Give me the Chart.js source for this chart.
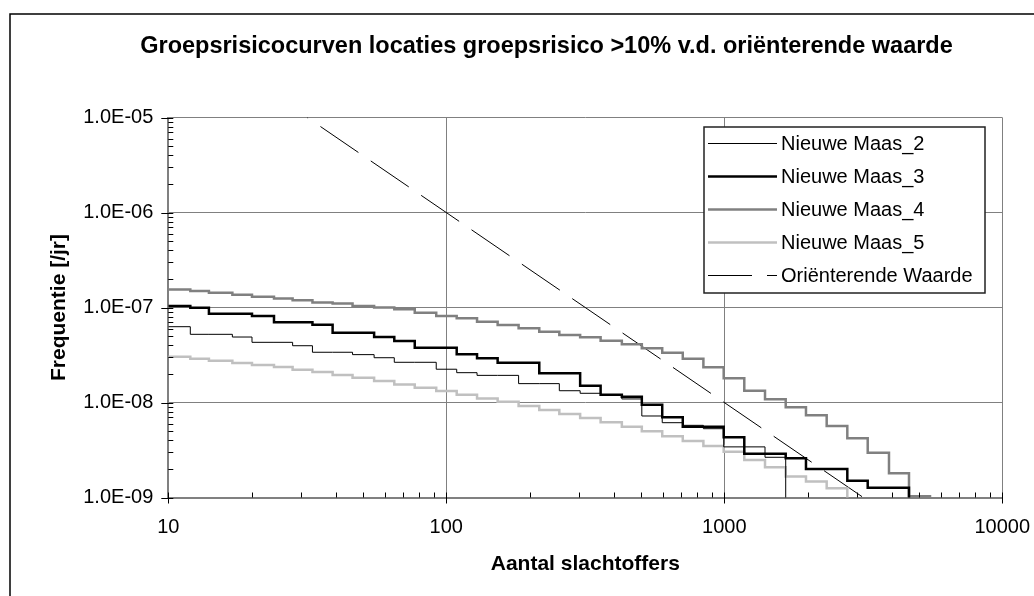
<!DOCTYPE html>
<html lang="nl">
<head>
<meta charset="utf-8">
<title>Groepsrisicocurven</title>
<script src="https://cdn.jsdelivr.net/npm/chart.js@4.4.1/dist/chart.umd.min.js"></script>
<style>
    html, body { margin: 0; padding: 0; background: #fff; overflow: hidden; }
    #wrap { position: relative; width: 1034px; height: 596px; }
</style>
</head>
<body>
<div id="wrap"><canvas id="gr-chart" width="1034" height="596"></canvas></div>
<script>
// Aantal slachtoffers (start van elke trede)
const aantal = [10, 12, 14, 17, 20, 24, 28, 33, 39, 46, 55, 65, 77, 92, 109, 129, 153, 182, 216, 255,
    303, 359, 428, 505, 598, 709, 841, 995, 1180, 1401, 1663, 1967, 2335, 2770, 3280, 3912, 4617, 5495];

// Frequentie [/jr] per locatie
const maas2 = [6.28e-8, 5.22e-8, 5.22e-8, 4.89e-8, 4.30e-8, 4.30e-8, 3.96e-8, 3.38e-8, 3.38e-8, 3.19e-8,
    2.96e-8, 2.65e-8, 2.65e-8, 2.24e-8, 2.06e-8, 1.93e-8, 1.93e-8, 1.58e-8, 1.58e-8, 1.33e-8,
    1.25e-8, 1.19e-8, 1.09e-8, 7.21e-9, 6.13e-9, 5.75e-9, 5.30e-9, 3.41e-9, 3.41e-9, 2.65e-9,
    1e-10, null, null, null, null, null, null, null];
const maas3 = [1.04e-7, 9.95e-8, 8.61e-8, 8.61e-8, 8.14e-8, 6.99e-8, 6.99e-8, 6.59e-8, 5.43e-8, 5.43e-8,
    4.89e-8, 4.44e-8, 3.77e-8, 3.77e-8, 3.22e-8, 2.92e-8, 2.62e-8, 2.62e-8, 2.03e-8, 2.03e-8,
    1.50e-8, 1.21e-8, 1.15e-8, 9.48e-9, 6.99e-9, 5.56e-9, 5.56e-9, 4.30e-9, 2.89e-9, 2.89e-9,
    2.59e-9, 2.00e-9, 2.00e-9, 1.50e-9, 1.27e-9, 1.27e-9, 1e-10, null];
const maas4 = [1.55e-7, 1.49e-7, 1.43e-7, 1.36e-7, 1.30e-7, 1.24e-7, 1.19e-7, 1.13e-7, 1.10e-7, 1.04e-7,
    1.00e-7, 9.57e-8, 8.81e-8, 8.14e-8, 7.70e-8, 7.09e-8, 6.54e-8, 6.04e-8, 5.56e-8, 5.13e-8,
    4.85e-8, 4.47e-8, 4.10e-8, 3.72e-8, 3.34e-8, 2.89e-8, 2.35e-8, 1.80e-8, 1.33e-8, 1.08e-8,
    8.90e-9, 7.33e-9, 5.66e-9, 4.20e-9, 2.96e-9, 1.80e-9, 1.03e-9, 1e-10];
const maas5 = [3.03e-8, 2.89e-8, 2.75e-8, 2.60e-8, 2.48e-8, 2.36e-8, 2.21e-8, 2.10e-8, 1.95e-8, 1.82e-8,
    1.68e-8, 1.55e-8, 1.43e-8, 1.32e-8, 1.21e-8, 1.10e-8, 1.02e-8, 9.19e-9, 8.34e-9, 7.57e-9,
    6.87e-9, 6.19e-9, 5.56e-9, 4.97e-9, 4.41e-9, 3.93e-9, 3.48e-9, 3.03e-9, 2.48e-9, 2.08e-9,
    1.66e-9, 1.47e-9, 1.25e-9, 1e-10, null, null, null, null];

// Oriënterende waarde
const orientAantal = [31.6, 3162];
const orientFreq = [1e-5, 1e-9];

// As-indeling
const xTicks = [10, 100, 1000, 10000];
const yTicks = [1e-9, 1e-8, 1e-7, 1e-6, 1e-5];

const FONT = "'Liberation Sans', Arial, sans-serif";

function toPoints(xs, ys) {
    return xs.map((x, i) => ({ x: x, y: ys[i] })).filter(p => p.y !== null);
}

function sciLabel(v) {
    const exp = Math.round(Math.log10(v));
    return '1.0E' + (exp < 0 ? '-' : '+') + String(Math.abs(exp)).padStart(2, '0');
}

// kader, titel, tickmarks en legende in Excel-stijl
const excelLook = {
    id: 'excelLook',
    beforeDraw(chart) {
        const ctx = chart.ctx;
        ctx.save();
        ctx.fillStyle = '#fff';
        ctx.fillRect(0, 0, chart.width, chart.height);
        ctx.strokeStyle = '#000';
        ctx.lineWidth = 1.5;
        ctx.beginPath();
        ctx.moveTo(10, chart.height + 5);
        ctx.lineTo(10, 14);
        ctx.lineTo(chart.width + 5, 14);
        ctx.stroke();
        ctx.restore();
    },
    afterDatasetsDraw(chart) {
        const { ctx, chartArea: a, scales: { x, y } } = chart;
        ctx.save();
        ctx.strokeStyle = '#000';
        ctx.lineWidth = 1;
        ctx.beginPath();
        for (let d = -9; d <= -5; d++) {
            const py = Math.round(y.getPixelForValue(Math.pow(10, d))) + 0.5;
            ctx.moveTo(a.left - 7, py);
            ctx.lineTo(a.left + 5, py);
            if (d === -5) continue;
            for (let m = 2; m <= 9; m++) {
                const p = Math.round(y.getPixelForValue(m * Math.pow(10, d))) + 0.5;
                ctx.moveTo(a.left, p);
                ctx.lineTo(a.left + 5, p);
            }
        }
        for (let d = 1; d <= 4; d++) {
            const px = Math.round(x.getPixelForValue(Math.pow(10, d))) + 0.5;
            ctx.moveTo(px, a.bottom - 5);
            ctx.lineTo(px, a.bottom + 6);
            if (d === 4) continue;
            for (let m = 2; m <= 9; m++) {
                const p = Math.round(x.getPixelForValue(m * Math.pow(10, d))) + 0.5;
                ctx.moveTo(p, a.bottom - 5);
                ctx.lineTo(p, a.bottom);
            }
        }
        ctx.stroke();
        ctx.restore();
    },
    afterDraw(chart) {
        const ctx = chart.ctx;
        ctx.save();

        // titel
        ctx.fillStyle = '#000';
        ctx.font = 'bold 23.5px ' + FONT;
        ctx.textAlign = 'center';
        ctx.textBaseline = 'middle';
        ctx.fillText('Groepsrisicocurven locaties groepsrisico >10% v.d. oriënterende waarde', 546.5, 47);

        // legende
        const lg = { left: 704, top: 127, right: 985, bottom: 293 };
        ctx.fillStyle = '#fff';
        ctx.fillRect(lg.left, lg.top, lg.right - lg.left, lg.bottom - lg.top);
        ctx.strokeStyle = '#222';
        ctx.lineWidth = 1.5;
        ctx.strokeRect(lg.left, lg.top, lg.right - lg.left, lg.bottom - lg.top);

        ctx.textAlign = 'left';
        ctx.font = '20px ' + FONT;
        chart.data.datasets.forEach((ds, i) => {
            const cy = 143.5 + i * 33;
            ctx.strokeStyle = ds.borderColor;
            ctx.lineWidth = ds.borderWidth;
            ctx.setLineDash(ds.borderDash || []);
            ctx.lineDashOffset = ds.borderDash ? 2 : 0;
            ctx.beginPath();
            ctx.moveTo(lg.left + 4, cy);
            ctx.lineTo(777, cy);
            ctx.stroke();
            ctx.setLineDash([]);
            ctx.fillStyle = '#000';
            ctx.fillText(ds.label, 781, cy + 1);
        });
        ctx.restore();
    }
};

const stepLine = (label, xs, ys, color, width) => ({
    label: label,
    data: toPoints(xs, ys),
    borderColor: color,
    borderWidth: width,
    stepped: true,
    pointRadius: 0,
    fill: false,
});

const datasets = [
    stepLine('Nieuwe Maas_2', aantal, maas2, '#000000', 1),
    stepLine('Nieuwe Maas_3', aantal, maas3, '#000000', 2.5),
    stepLine('Nieuwe Maas_4', aantal, maas4, '#808080', 2.5),
    stepLine('Nieuwe Maas_5', aantal, maas5, '#c0c0c0', 2.5),
    {
        label: 'Oriënterende Waarde',
        data: toPoints(orientAantal, orientFreq),
        borderColor: '#000000',
        borderWidth: 1,
        borderDash: [46, 15],
        borderDashOffset: 45,
        pointRadius: 0,
        fill: false,
    }
];

new Chart(document.getElementById('gr-chart').getContext('2d'), {
    type: 'line',
    data: { datasets },
    plugins: [excelLook],
    options: {
        responsive: false,
        animation: false,
        devicePixelRatio: 1,
        layout: { padding: { top: 117.5, right: 31.7, left: 0, bottom: 0 } },
        plugins: {
            legend: { display: false },
            tooltip: { enabled: false },
        },
        scales: {
            x: {
                type: 'logarithmic',
                min: 10,
                max: 10000,
                afterBuildTicks: s => { s.ticks = xTicks.map(v => ({ value: v })); },
                afterFit: s => {
                    s.height = 98.5;
                    s.paddingLeft = 0;
                    s.paddingRight = 0;
                },
                ticks: {
                    font: { family: FONT, size: 20 },
                    color: '#000',
                    padding: 18,
                    maxRotation: 0,
                    autoSkip: false,
                    callback: v => String(v),
                },
                grid: { color: '#808080', lineWidth: 1, drawTicks: false },
                border: { color: '#808080', width: 2 },
                title: {
                    display: true,
                    text: 'Aantal slachtoffers',
                    font: { family: FONT, size: 21, weight: 'bold' },
                    color: '#000',
                    padding: { top: 4, bottom: 19.4 },
                },
            },
            y: {
                type: 'logarithmic',
                min: 1e-9,
                max: 1e-5,
                afterBuildTicks: s => { s.ticks = yTicks.map(v => ({ value: v })); },
                afterFit: s => {
                    s.width = 168.3;
                    s.paddingTop = 0;
                    s.paddingBottom = 0;
                },
                ticks: {
                    font: { family: FONT, size: 20 },
                    color: '#000',
                    padding: 15,
                    autoSkip: false,
                    callback: v => sciLabel(v),
                },
                grid: { color: '#808080', lineWidth: 1, drawTicks: false },
                border: { color: '#808080', width: 2 },
                title: {
                    display: true,
                    text: 'Frequentie [/jr]',
                    font: { family: FONT, size: 21, weight: 'bold' },
                    color: '#000',
                    padding: { top: 46.4, bottom: 4 },
                },
            },
        },
    },
});
</script>
</body>
</html>
